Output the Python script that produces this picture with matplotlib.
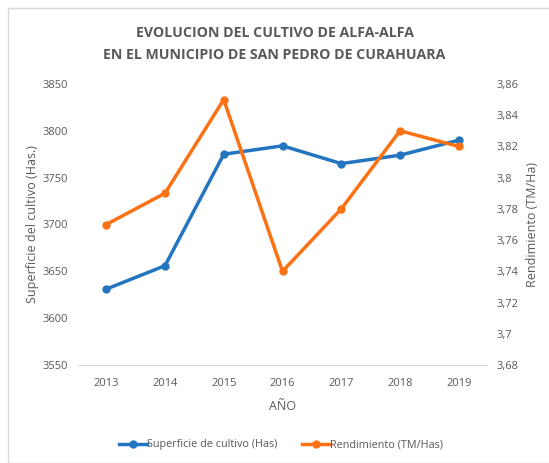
import matplotlib.pyplot as plt
from matplotlib.patches import Rectangle

# --- datos ---
years = ["2013", "2014", "2015", "2016", "2017", "2018", "2019"]
superficie = [3631, 3656, 3775, 3784, 3765, 3774, 3790]
rendimiento = [3.77, 3.79, 3.85, 3.74, 3.78, 3.83, 3.82]

left_ticks = [3550, 3600, 3650, 3700, 3750, 3800, 3850]
right_ticks = [3.68, 3.70, 3.72, 3.74, 3.76, 3.78, 3.80, 3.82, 3.84, 3.86]

BLUE = "#2475c0"
ORANGE = "#fb7214"
GREY = "#595959"

plt.rcParams["font.family"] = ["Open Sans", "DejaVu Sans"]

W, H = 549, 463
fig = plt.figure(figsize=(W / 100, H / 100), dpi=100)
ax = fig.add_axes([78 / W, 1 - 365 / H, (487 - 78) / W, (365 - 84) / H])
ax2 = ax.twinx()

# marco exterior del gráfico
fig.patches.append(Rectangle((8 / W, 0.0), 1.0, 1 - 8 / H, transform=fig.transFigure,
                             fill=False, edgecolor="#d9d9d9", linewidth=1.0))

x = list(range(len(years)))
ax.plot(x, superficie, color=BLUE, linewidth=2.5, marker="o", markersize=5,
        label="Superficie de cultivo (Has)", zorder=3)
ax2.plot(x, rendimiento, color=ORANGE, linewidth=2.5, marker="o", markersize=5,
         label="Rendimiento (TM/Has)", zorder=3)

ax.set_xlim(-0.48, 6.48)
ax.set_ylim(3550, 3850)
ax2.set_ylim(3.68, 3.86)
ax.set_xticks(x)
ax.set_xticklabels(years)
ax.set_yticks(left_ticks)
ax2.set_yticks(right_ticks)
ax2.set_yticklabels([f"{v:g}".replace(".", ",") for v in right_ticks])

for a in (ax, ax2):
    for s in a.spines.values():
        s.set_visible(False)
    a.tick_params(length=0, labelsize=8, colors=GREY)
ax.spines["bottom"].set_visible(True)
ax.spines["bottom"].set_color("#d9d9d9")
ax.tick_params(axis="y", pad=7)
ax2.tick_params(axis="y", pad=7)
ax.tick_params(axis="x", pad=9)

ax.set_xlabel("AÑO", fontsize=9, color=GREY, labelpad=8)
ax.set_ylabel("Superficie del cultivo (Has.)", fontsize=9, color=GREY, labelpad=3)
ax2.set_ylabel("Rendimiento (TM/Ha)", fontsize=9, color=GREY, labelpad=5)

# título en dos líneas
fig.text(0.5, 1 - 33 / H, "EVOLUCION DEL CULTIVO DE ALFA-ALFA",
         ha="center", va="center", fontsize=10.2, fontweight="bold", color=GREY)
fig.text(0.5, 1 - 55 / H, "EN EL MUNICIPIO DE SAN PEDRO DE CURAHUARA",
         ha="center", va="center", fontsize=10.2, fontweight="bold", color=GREY)

h1, l1 = ax.get_legend_handles_labels()
h2, l2 = ax2.get_legend_handles_labels()
fig.legend(h1 + h2, l1 + l2, loc="center", bbox_to_anchor=(281 / W, 1 - 445 / H), ncol=2,
           frameon=False, fontsize=7.8, labelcolor=GREY, handlelength=2.6, handletextpad=0.0,
           columnspacing=2.3)

fig.savefig("out.png", dpi=100)
